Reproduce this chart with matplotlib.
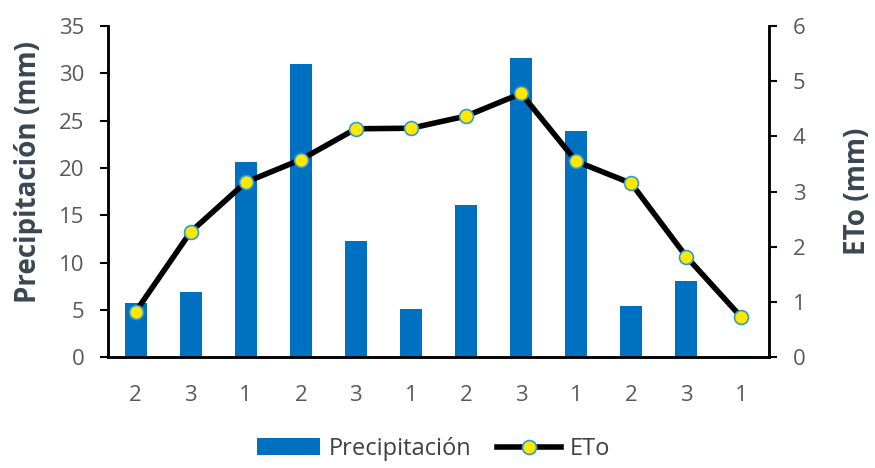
import numpy as np
import matplotlib
matplotlib.use("Agg")
import matplotlib.pyplot as plt

plt.rcParams['font.family'] = ['Open Sans', 'DejaVu Sans']

# decadas (1, 2, 3) de cada mes
periodos = ['2', '3', '1', '2', '3', '1', '2', '3', '1', '2', '3', '1']
precipitacion = [5.7, 6.9, 20.6, 31.0, 12.3, 5.1, 16.1, 31.6, 23.9, 5.4, 8.0, 0.15]
eto = [0.82, 2.27, 3.17, 3.58, 4.14, 4.15, 4.37, 4.78, 3.55, 3.15, 1.82, 0.72]

x = np.arange(len(periodos))

fig = plt.figure(figsize=(8.75, 4.68), dpi=100)
ax = fig.add_axes([0.1234, 0.237, 0.7555, 0.707])
ax2 = ax.twinx()

bars = ax.bar(x, precipitacion, width=0.4, color='#0070C0', label='Precipitación', zorder=2)
line, = ax2.plot(x, eto, color='black', linewidth=4, marker='o', markersize=10,
                 markerfacecolor='#FFE800', markeredgecolor='#2E9BD6',
                 markeredgewidth=1.2, label='ETo', zorder=3)

ax.set_xlim(-0.5, len(periodos) - 0.5)
ax.set_ylim(0, 35)
ax.set_yticks(range(0, 36, 5))
ax2.set_ylim(0, 6)
ax2.set_yticks(range(0, 7))

ax.set_xticks(x)
ax.set_xticklabels(periodos)

for a in (ax, ax2):
    a.spines['top'].set_visible(False)
    a.tick_params(axis='y', labelsize=16, labelcolor='#595959', color='black',
                  length=6, width=1.5, direction='out', pad=11)
    for s in a.spines.values():
        s.set_linewidth(1.8)
        s.set_color('black')
ax.tick_params(axis='x', length=0, labelsize=16, labelcolor='#595959', pad=20)

ax.set_ylabel('Precipitación (mm)', fontsize=20, fontweight='bold', color='#3A4752')
ax2.set_ylabel('ETo (mm)', fontsize=20, fontweight='bold', color='#3A4752')
ax.yaxis.set_label_coords(-0.099, 0.56)
ax2.yaxis.set_label_coords(1.112, 0.5)

ax.set_zorder(ax2.get_zorder() - 1)
ax2.patch.set_visible(False)

fig.legend([bars, line], ['Precipitación', 'ETo'], loc='lower center',
           bbox_to_anchor=(0.495, -0.03), ncol=2, frameon=False, fontsize=17,
           labelcolor='#404040', handlelength=2.7, columnspacing=1.1,
           handletextpad=0.35, handleheight=0.7)

plt.savefig('out.png', dpi=100)
